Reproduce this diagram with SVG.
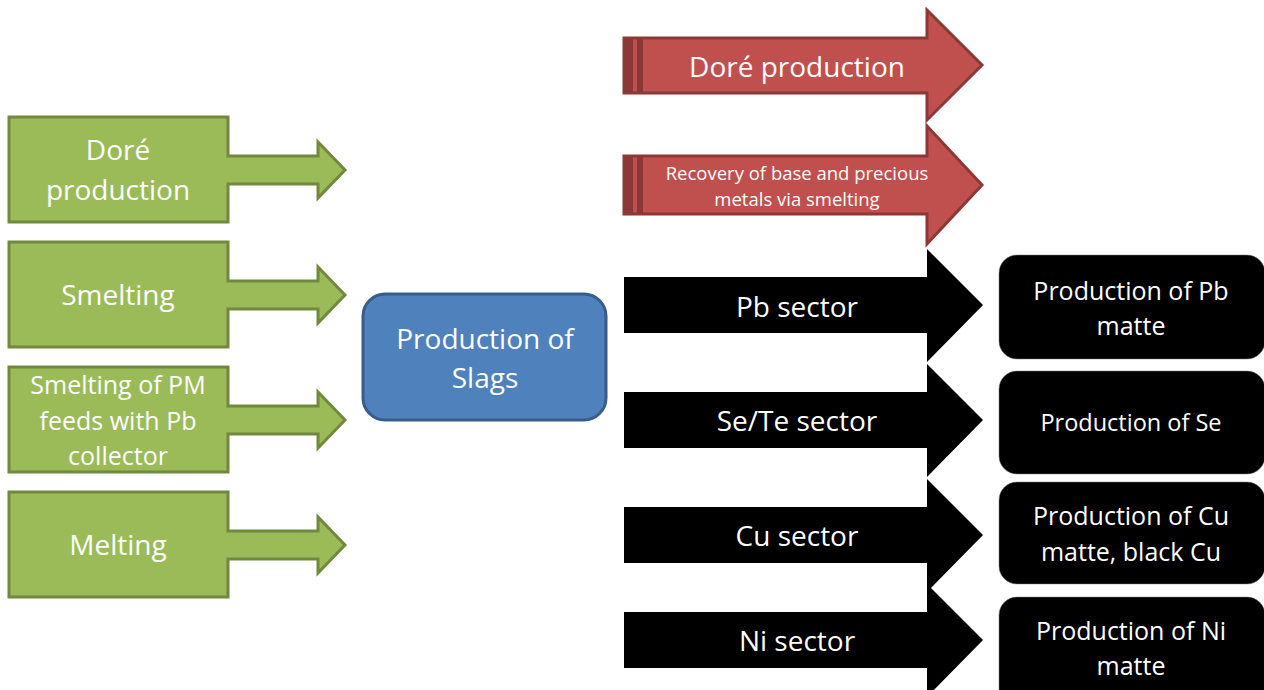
<svg xmlns="http://www.w3.org/2000/svg" width="1264" height="690" viewBox="0 0 1264 690">
<style>
.t{font-family:"Open Sans","Liberation Sans",sans-serif;fill:#fff;text-anchor:middle;dominant-baseline:central}
.g{fill:#9BBB59;stroke:#71893F;stroke-width:3;stroke-linejoin:miter}
.r{fill:#C0504D;stroke:#8C3836;stroke-width:3}
.rd{fill:#8C3836}
.k{fill:#000;stroke:#7f7f7f;stroke-width:0.5}
.b{fill:#4F81BD;stroke:#385D8A;stroke-width:3}
</style>
<g id="connectors"></g>
<g id="n-dore-in">
<path class="g" d="M9,117 H228 V156 H318 V142 L345,170 L318,198 V184 H228 V222 H9 Z"/>
<text class="t" font-size="28"><tspan x="118" y="149">Doré</tspan><tspan x="118" y="189">production</tspan></text>
</g>
<g id="n-smelting">
<path class="g" d="M9,242 H228 V281 H318 V267 L345,295 L318,323 V309 H228 V347 H9 Z"/>
<text class="t" x="118" y="294" font-size="28">Smelting</text>
</g>
<g id="n-smelting-pm">
<path class="g" d="M9,367 H228 V406 H318 V392 L345,420 L318,448 V434 H228 V472 H9 Z"/>
<text class="t" font-size="25"><tspan x="118" y="384">Smelting of PM</tspan><tspan x="118" y="420">feeds with Pb</tspan><tspan x="118" y="455">collector</tspan></text>
</g>
<g id="n-melting">
<path class="g" d="M9,492 H228 V531 H318 V517 L345,545 L318,573 V559 H228 V597 H9 Z"/>
<text class="t" x="118" y="544" font-size="28">Melting</text>
</g>
<g id="n-slags">
<rect class="b" x="363" y="294" width="243" height="126" rx="22"/>
<text class="t" font-size="28"><tspan x="485" y="338">Production of</tspan><tspan x="485" y="377">Slags</tspan></text>
</g>
<g id="n-dore-out">
<path class="r" d="M624,38 H927 V10 L982,65 L927,120 V93 H624 Z"/>
<rect class="rd" x="624" y="38" width="9" height="55"/>
<rect class="rd" x="637" y="38" width="6" height="55"/>
<text class="t" x="797" y="66" font-size="28">Doré production</text>
</g>
<g id="n-recovery">
<path class="r" d="M624,156 H927 V126 L982,185 L927,244 V214 H624 Z"/>
<rect class="rd" x="624" y="156" width="9" height="58"/>
<rect class="rd" x="637" y="156" width="6" height="58"/>
<text class="t" font-size="18.5"><tspan x="797" y="172">Recovery of base and precious</tspan><tspan x="797" y="198">metals via smelting</tspan></text>
</g>
<g id="n-pb">
<path d="M624,277 H927 V249 L983,305 L927,362 V333 H624 Z" fill="#000"/>
<text class="t" x="797" y="306" font-size="28">Pb sector</text>
</g>
<g id="n-sete">
<path d="M624,392 H927 V364 L983,420 L927,477 V448 H624 Z" fill="#000"/>
<text class="t" x="797" y="420" font-size="28">Se/Te sector</text>
</g>
<g id="n-cu">
<path d="M624,507 H927 V479 L983,535 L927,592 V563 H624 Z" fill="#000"/>
<text class="t" x="797" y="535" font-size="28">Cu sector</text>
</g>
<g id="n-ni">
<path d="M624,612 H927 V584 L983,640 L927,697 V668 H624 Z" fill="#000"/>
<text class="t" x="797" y="640" font-size="28">Ni sector</text>
</g>
<g id="n-pb-matte">
<rect class="k" x="999" y="255" width="266" height="104" rx="18"/>
<text class="t" font-size="25"><tspan x="1131" y="290">Production of Pb</tspan><tspan x="1131" y="325">matte</tspan></text>
</g>
<g id="n-se">
<rect class="k" x="999" y="371" width="266" height="103" rx="18"/>
<text class="t" x="1131" y="422" font-size="23.5">Production of Se</text>
</g>
<g id="n-cu-matte">
<rect class="k" x="999" y="482" width="266" height="102" rx="18"/>
<text class="t" font-size="25"><tspan x="1131" y="515">Production of Cu</tspan><tspan x="1131" y="551">matte, black Cu</tspan></text>
</g>
<g id="n-ni-matte">
<rect class="k" x="999" y="597" width="266" height="110" rx="18"/>
<text class="t" font-size="25"><tspan x="1131" y="630">Production of Ni</tspan><tspan x="1131" y="665">matte</tspan></text>
</g>
</svg>
